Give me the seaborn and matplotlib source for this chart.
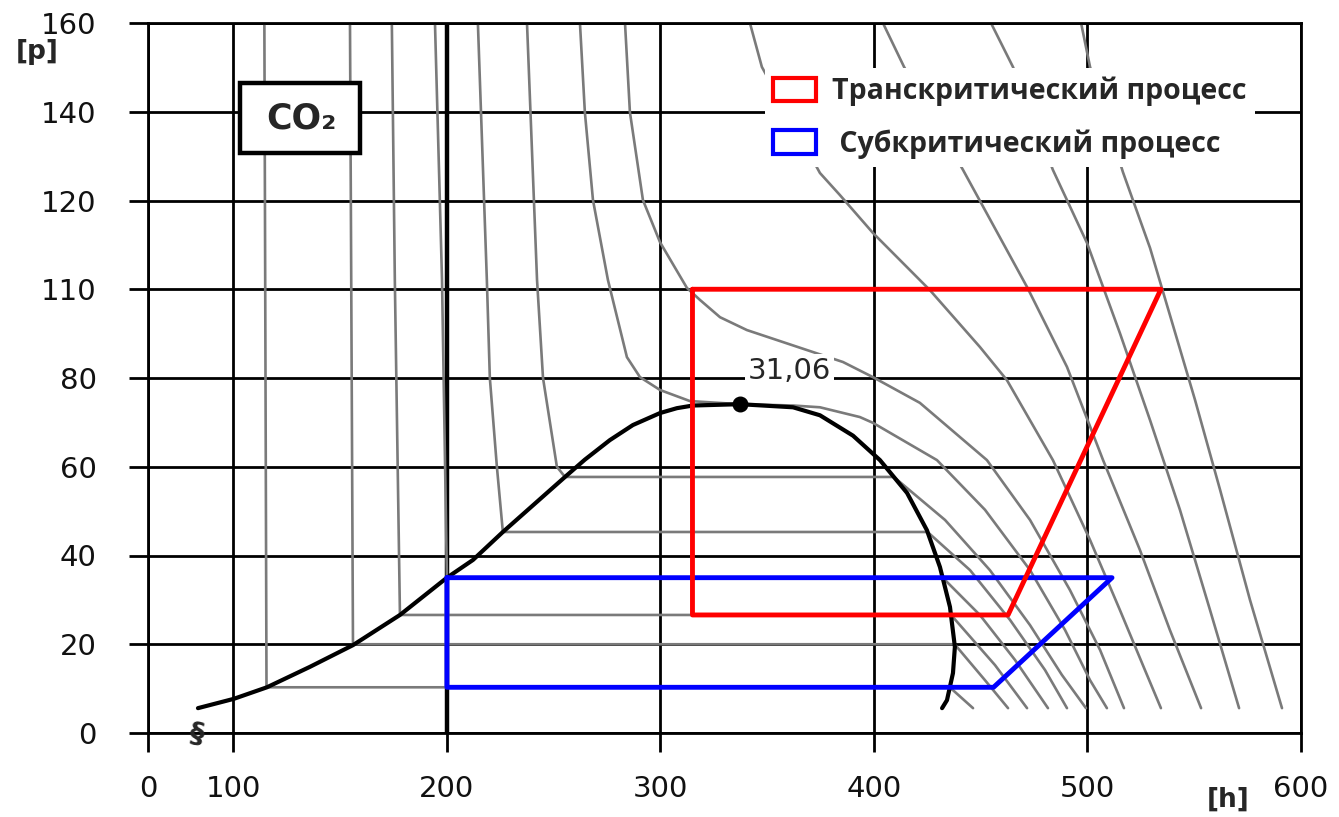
import numpy as np
import pandas as pd
import matplotlib
matplotlib.use('Agg')
import matplotlib.pyplot as plt
from matplotlib.patches import Patch, Rectangle
import seaborn as sns

# axis ticks (p position 100 carries the label "110" on the original chart)
h_ticks = [60, 100, 200, 300, 400, 500, 600]
h_labels = ['0', '100', '200', '300', '400', '500', '600']
p_ticks = [0, 20, 40, 60, 80, 100, 120, 140, 160]
p_labels = ['0', '20', '40', '60', '80', '110', '120', '140', '160']

# saturation dome (liquid side -> critical point -> vapour side)
dome_h = [83.4, 100.2, 115.7, 135.8, 156.0, 178.0, 200.0, 212.2, 226.2, 255.3, 264.6, 276.3,
          287.1, 299.8, 307.7, 315.2, 337.2, 362.1, 374.7, 390.2, 402.8, 415.5, 424.8, 430.9,
          435.6, 437.9, 437.0, 434.2, 431.9]
dome_p = [5.6, 7.7, 10.3, 14.9, 19.8, 26.6, 35.0, 39.0, 45.3, 57.7, 61.6, 66.0,
          69.4, 72.1, 73.2, 73.8, 74.1, 73.4, 71.6, 67.0, 61.5, 54.1, 45.7, 37.4,
          28.4, 19.4, 13.5, 7.4, 5.6]
crit_h = 337.2
crit_p = 74.1
crit_label = '31,06'

# isotherms
iso_1_h = [114.5, 115.5, 435.5, 446.4]
iso_1_p = [160, 10.3, 10.3, 5.6]
iso_2_h = [154.6, 156.0, 437.8, 452.0, 462.8]
iso_2_p = [160, 20.0, 20.0, 11.9, 5.6]
iso_3_h = [174.2, 175.6, 178.0, 436.1, 456.7, 471.7]
iso_3_p = [160, 102.1, 26.6, 26.6, 15.3, 5.6]
iso_4_h = [194.4, 197.7, 200.0, 432.2, 449.6, 466.0, 481.5]
iso_4_p = [160, 102.1, 35.0, 35.0, 26.6, 16.5, 5.6]
iso_5_h = [214.5, 218.7, 220.1, 223.4, 226.2, 425.1, 445.0, 463.7, 480.1, 490.4]
iso_5_p = [160, 102.1, 80.0, 60.0, 45.3, 45.3, 36.7, 25.5, 14.2, 5.6]
iso_6_h = [237.5, 242.2, 245.0, 251.5, 255.3, 409.3, 433.3, 454.3, 473.1, 488.0, 499.3]
iso_6_p = [160, 102.1, 80.0, 60.0, 57.7, 57.7, 48.0, 36.7, 24.3, 13.1, 5.6]
iso_crit_h = [262.3, 264.6, 268.4, 275.4, 284.3, 290.4, 299.8, 313.8, 337.2, 362.1, 374.7,
              393.4, 399.5, 429.5, 452.0, 473.1, 489.5, 501.2, 509.1]
iso_crit_p = [160, 139.9, 120.1, 102.1, 84.7, 80.2, 77.3, 74.8, 74.1, 73.8, 73.4,
              71.2, 69.9, 61.5, 50.3, 36.7, 23.2, 11.9, 5.6]
iso_b_h = [283.4, 285.7, 291.8, 299.8, 312.4, 318.5, 327.9, 340.5, 368.6, 385.5, 399.5, 421.5,
           452.9, 473.1, 491.8, 505.9, 517.1]
iso_b_p = [160, 139.9, 120.1, 110.6, 100.3, 97.6, 93.7, 90.8, 86.3, 83.6, 80.2, 74.4,
           61.5, 48.0, 32.2, 18.7, 5.6]
iso_c_h = [341.9, 347.5, 374.7, 384.1, 399.5, 426.2, 449.6, 462.3, 483.8, 501.2, 515.2, 526.9, 534.4]
iso_c_p = [160, 150.1, 126.2, 121.2, 112.7, 99.8, 87.0, 79.5, 61.5, 43.5, 27.7, 14.2, 5.6]
iso_d_h = [404.2, 414.1, 441.7, 471.7, 490.4, 507.3, 524.6, 538.6, 553.2]
iso_d_p = [160, 150.1, 126.9, 100.5, 82.5, 61.5, 41.2, 23.2, 5.6]
iso_e_h = [454.8, 465.1, 483.8, 499.8, 515.2, 529.3, 543.3, 557.4, 571.0]
iso_e_p = [160, 150.1, 126.9, 110.4, 90.1, 70.5, 50.3, 27.7, 5.6]
iso_f_h = [497.0, 501.2, 516.6, 529.3, 538.6, 550.4, 562.1, 576.1, 591.1]
iso_f_p = [160, 150.1, 126.4, 109.3, 94.2, 75.0, 54.8, 30.0, 5.6]

# refrigeration cycles
trans_h = [315.0, 534.4, 462.8, 315.0, 315.0]
trans_p = [100.0, 100.0, 26.6, 26.6, 100.0]
sub_h = [200.0, 511.5, 456.0, 200.0, 200.0]
sub_p = [35.0, 35.0, 10.3, 10.3, 35.0]

trans_label = 'Транскритический процесс'
sub_label = ' Субкритический процесс'

isotherms = {
    't1': (iso_1_h, iso_1_p), 't2': (iso_2_h, iso_2_p), 't3': (iso_3_h, iso_3_p),
    't4': (iso_4_h, iso_4_p), 't5': (iso_5_h, iso_5_p), 't6': (iso_6_h, iso_6_p),
    'crit': (iso_crit_h, iso_crit_p), 'b': (iso_b_h, iso_b_p), 'c': (iso_c_h, iso_c_p),
    'd': (iso_d_h, iso_d_p), 'e': (iso_e_h, iso_e_p), 'f': (iso_f_h, iso_f_p),
}
iso_df = pd.concat([pd.DataFrame({'h': h, 'p': p, 'curve': name})
                    for name, (h, p) in isotherms.items()], ignore_index=True)

sns.set_style('white')
plt.rcParams['font.family'] = ['DejaVu Sans']

fig = plt.figure(figsize=(13.39, 8.17), dpi=100)
ax = fig.add_axes([148 / 1339, 1 - 733 / 817, 1153 / 1339, 710 / 817])

sns.lineplot(data=iso_df, x='h', y='p', units='curve', estimator=None, sort=False,
             color='#7a7a7a', lw=1.9, legend=False, ax=ax, zorder=2)
sns.lineplot(x=dome_h, y=dome_p, sort=False, estimator=None, color='black', lw=3,
             ax=ax, zorder=3)
ax.scatter([crit_h], [crit_p], s=110, color='black', zorder=4)
sns.lineplot(x=sub_h, y=sub_p, sort=False, estimator=None, color='#0000ff', lw=3.5,
             ax=ax, zorder=4)
sns.lineplot(x=trans_h, y=trans_p, sort=False, estimator=None, color='#ff0000', lw=3.5,
             ax=ax, zorder=4)

ax.annotate(crit_label, xy=(crit_h, crit_p), xytext=(36, 24), textcoords='offset points',
            ha='center', va='center', fontsize=21, zorder=4.5,
            bbox=dict(facecolor='white', edgecolor='none', pad=2))

ax.set_xlim(60, 600)
ax.set_ylim(0, 160)
ax.set_xticks(h_ticks)
ax.set_xticklabels(h_labels)
ax.set_yticks(p_ticks)
ax.set_yticklabels(p_labels)
ax.set_xlabel('')
ax.set_ylabel('')
ax.set_axisbelow(True)
ax.grid(True, color='black', lw=2)
for gl, xv in zip(ax.get_xgridlines(), h_ticks):
    if xv == 200:
        gl.set_linewidth(3.2)
for s in ax.spines.values():
    s.set_color('black')
    s.set_linewidth(2)
ax.tick_params(axis='both', which='major', length=14, width=2, color='black',
               labelsize=21, labelcolor='#111111', direction='out',
               bottom=True, left=True, top=False, right=False)
ax.tick_params(axis='x', pad=16)
ax.tick_params(axis='y', pad=23)

# CO2 box
ax.add_patch(Rectangle((0.080, 0.817), 0.104, 0.099, transform=ax.transAxes,
                       facecolor='white', edgecolor='black', lw=3.2, zorder=5))
ax.text(0.133, 0.865, 'CO₂', transform=ax.transAxes, ha='center', va='center',
        fontsize=25, fontweight='bold', zorder=6)

# axis break mark
ax.text(82.9, 0, '§', ha='center', va='center', fontsize=21, fontweight='bold',
        rotation=-10, clip_on=False, zorder=6)

handles = [Patch(facecolor='white', edgecolor='#ff0000', lw=3, label=trans_label),
           Patch(facecolor='white', edgecolor='#0000ff', lw=3, label=sub_label)]
leg = ax.legend(handles=handles, loc='upper left', bbox_to_anchor=(0.535, 0.936),
                frameon=True, facecolor='white', edgecolor='none', framealpha=1,
                fancybox=False, prop={'family': 'Open Sans', 'weight': 'bold', 'size': 20.5},
                handlelength=1.5, handleheight=0.88, handletextpad=0.55,
                labelspacing=0.8, borderpad=0.3, borderaxespad=0)
leg.set_zorder(6)

fig.text(37 / 1339, 1 - 52 / 817, '[p]', ha='center', va='center', fontsize=19,
         fontweight='bold')
fig.text(1228 / 1339, 1 - 800 / 817, '[h]', ha='center', va='center', fontsize=19,
         fontweight='bold')

fig.savefig('out.png', dpi=100, facecolor='white')
